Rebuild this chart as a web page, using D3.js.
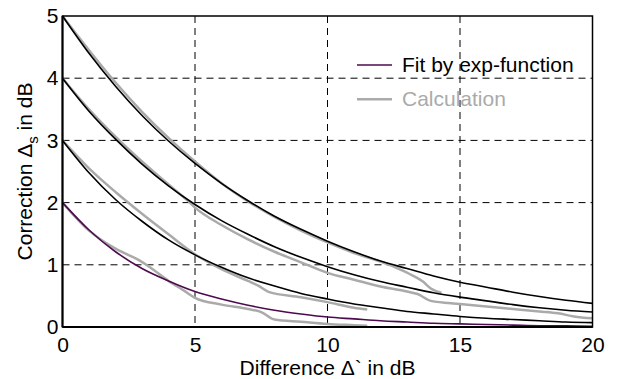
<!DOCTYPE html>
<html>
<head>
<meta charset="utf-8">
<script src="https://cdn.jsdelivr.net/npm/d3@7"></script>
<style>
    body { margin: 0; background: #fff; }
    svg { font-family: "Liberation Sans", Arial, sans-serif; }
    .grid line { stroke: #000; stroke-dasharray: 7,5; stroke-width: 1; }
</style>
</head>
<body>
<div id="chart"></div>
<script>
var xTicks = [0, 5, 10, 15, 20];
var yTicks = [0, 1, 2, 3, 4, 5];

// fitted curves, read at every dB
var fitX = [0, 1, 2, 3, 4, 5, 6, 7, 8, 9, 10, 11, 12, 13, 14, 15, 16, 17, 18, 19, 20];
var fit5 = [5.00, 4.40, 3.87, 3.40, 2.99, 2.63, 2.31, 2.03, 1.78, 1.57, 1.38, 1.21, 1.06, 0.94, 0.82, 0.72, 0.64, 0.56, 0.49, 0.43, 0.38];
var fit4 = [4.00, 3.47, 3.02, 2.62, 2.27, 1.97, 1.71, 1.49, 1.29, 1.12, 0.97, 0.84, 0.73, 0.64, 0.55, 0.48, 0.42, 0.36, 0.31, 0.27, 0.24];
var fit3 = [3.00, 2.48, 2.05, 1.70, 1.40, 1.16, 0.96, 0.79, 0.66, 0.54, 0.45, 0.37, 0.31, 0.25, 0.21, 0.17, 0.14, 0.12, 0.10, 0.08, 0.07];
var fit2 = [2.00, 1.56, 1.21, 0.94, 0.74, 0.57, 0.45, 0.35, 0.27, 0.21, 0.16, 0.13, 0.10, 0.08, 0.06, 0.05, 0.04, 0.03, 0.02, 0.02, 0.01];

// calculated curves (gray)
var calc5X = [0, 1, 2, 3, 4, 5, 6, 7, 8, 9, 10, 11, 12, 12.6, 13.2, 13.6, 13.9, 14.3];
var calc5 = [5.00, 4.45, 3.93, 3.46, 3.04, 2.66, 2.31, 2.02, 1.77, 1.55, 1.36, 1.19, 1.05, 0.95, 0.83, 0.73, 0.62, 0.55];
var calc4X = [0, 1, 2, 3, 4, 4.7, 5, 6, 7, 8, 9, 10, 11, 12, 13, 13.4, 13.9, 15, 16, 17, 18, 18.7, 19.3, 20];
var calc4 = [4.00, 3.50, 3.06, 2.66, 2.29, 2.04, 1.92, 1.64, 1.41, 1.21, 1.04, 0.87, 0.76, 0.65, 0.57, 0.53, 0.42, 0.37, 0.33, 0.29, 0.25, 0.22, 0.17, 0.14];
var calc3X = [0, 1, 2, 3, 4, 5, 6, 7, 7.4, 7.8, 9, 10, 11, 11.5];
var calc3 = [3.00, 2.55, 2.17, 1.82, 1.49, 1.17, 0.93, 0.74, 0.66, 0.56, 0.48, 0.40, 0.31, 0.28];
var calc2X = [0, 1, 2, 2.9, 3.3, 4, 4.6, 5, 6, 7, 7.5, 8, 9, 10, 11, 11.5];
var calc2 = [2.00, 1.55, 1.26, 1.07, 0.96, 0.74, 0.58, 0.47, 0.36, 0.29, 0.24, 0.12, 0.085, 0.05, 0.03, 0.02];

var legendNames = ['Fit by exp-function', 'Calculation'];
var purple = '#4d0a4d', gray = '#aaaaaa';

var W = 617, H = 379;
var margin = {top: 16, right: 24.5, bottom: 52, left: 62.5};
var width = W - margin.left - margin.right,
    height = H - margin.top - margin.bottom;

var svg = d3.select('#chart').append('svg')
    .attr('width', W)
    .attr('height', H);
var g = svg.append('g').attr('transform', 'translate(' + margin.left + ',' + margin.top + ')');

var x = d3.scaleLinear().domain([0, 20]).range([0, width]);
var y = d3.scaleLinear().domain([0, 5]).range([height, 0]);

// grid
g.append('g').attr('class', 'grid')
    .selectAll('line')
    .data(xTicks.slice(1, -1))
    .enter().append('line')
    .attr('x1', x).attr('x2', x)
    .attr('y1', 0).attr('y2', height);
g.append('g').attr('class', 'grid')
    .selectAll('line')
    .data(yTicks.slice(1, -1))
    .enter().append('line')
    .attr('y1', y).attr('y2', y)
    .attr('x1', 0).attr('x2', width);

function zip(xs, ys) {
    return xs.map(function (d, i) { return [d, ys[i]]; });
}

var line = d3.line()
    .x(function (d) { return x(d[0]); })
    .y(function (d) { return y(d[1]); })
    .curve(d3.curveMonotoneX);

var calcs = [zip(calc5X, calc5), zip(calc4X, calc4), zip(calc3X, calc3), zip(calc2X, calc2)];
g.selectAll('.calc')
    .data(calcs)
    .enter().append('path')
    .attr('class', 'calc')
    .attr('d', line)
    .attr('fill', 'none')
    .attr('stroke', gray)
    .attr('stroke-width', 2.5);

var fits = [fit5, fit4, fit3, fit2];
g.selectAll('.fit')
    .data(fits)
    .enter().append('path')
    .attr('class', 'fit')
    .attr('d', function (d) { return line(zip(fitX, d)); })
    .attr('fill', 'none')
    .attr('stroke', function (d, i) { return i == 3 ? purple : '#000'; })
    .attr('stroke-width', 1.6);

// box
g.append('rect')
    .attr('width', width).attr('height', height)
    .attr('fill', 'none')
    .attr('stroke', '#000')
    .attr('stroke-width', 1.5);
g.append('line').attr('x1', 0).attr('x2', 0).attr('y1', 0).attr('y2', height)
    .attr('stroke', '#000').attr('stroke-width', 2);
g.append('line').attr('x1', 0).attr('x2', width).attr('y1', height).attr('y2', height)
    .attr('stroke', '#000').attr('stroke-width', 2);

// tick labels
var xAxis = d3.axisBottom(x).tickValues(xTicks).tickFormat(d3.format('d')).tickSize(0).tickPadding(10);
g.append('g')
    .attr('transform', 'translate(0,' + height + ')')
    .call(xAxis)
    .call(function (s) { s.select('.domain').remove(); })
    .selectAll('text')
    .attr('font-size', 21)
    .attr('font-family', '"Liberation Sans", Arial, sans-serif')
    .attr('fill', '#000');

var yAxis = d3.axisLeft(y).tickValues(yTicks).tickFormat(d3.format('d')).tickSize(0).tickPadding(4);
g.append('g')
    .call(yAxis)
    .call(function (s) { s.select('.domain').remove(); })
    .selectAll('text')
    .attr('font-size', 21)
    .attr('font-family', '"Liberation Sans", Arial, sans-serif')
    .attr('fill', '#000');

// axis titles
svg.append('text')
    .attr('x', margin.left + width / 2)
    .attr('y', 375)
    .attr('text-anchor', 'middle')
    .attr('font-size', 21)
    .text('Difference \u0394` in dB');

var ylab = svg.append('text')
    .attr('transform', 'translate(32,' + (margin.top + height / 2) + ') rotate(-90)')
    .attr('text-anchor', 'middle')
    .attr('font-size', 21);
ylab.append('tspan').text('Correction \u0394');
ylab.append('tspan').attr('dy', 6).attr('font-size', 15).text('s');
ylab.append('tspan').attr('dy', -6).text(' in dB');

// legend
var leg = svg.selectAll('.legend')
    .data(legendNames)
    .enter().append('g')
    .attr('class', 'legend')
    .attr('transform', function (d, i) {
        return 'translate(357,' + (65 + i * 34.3) + ')';
    });
leg.append('line')
    .attr('x1', 0).attr('x2', 35)
    .attr('stroke', function (d, i) { return i == 0 ? purple : gray; })
    .attr('stroke-width', function (d, i) { return i == 0 ? 1.6 : 2.5; });
leg.append('text')
    .attr('x', 45)
    .attr('y', 7)
    .attr('font-size', 21)
    .attr('fill', function (d, i) { return i == 0 ? '#000' : gray; })
    .text(function (d) { return d; });
</script>
</body>
</html>
